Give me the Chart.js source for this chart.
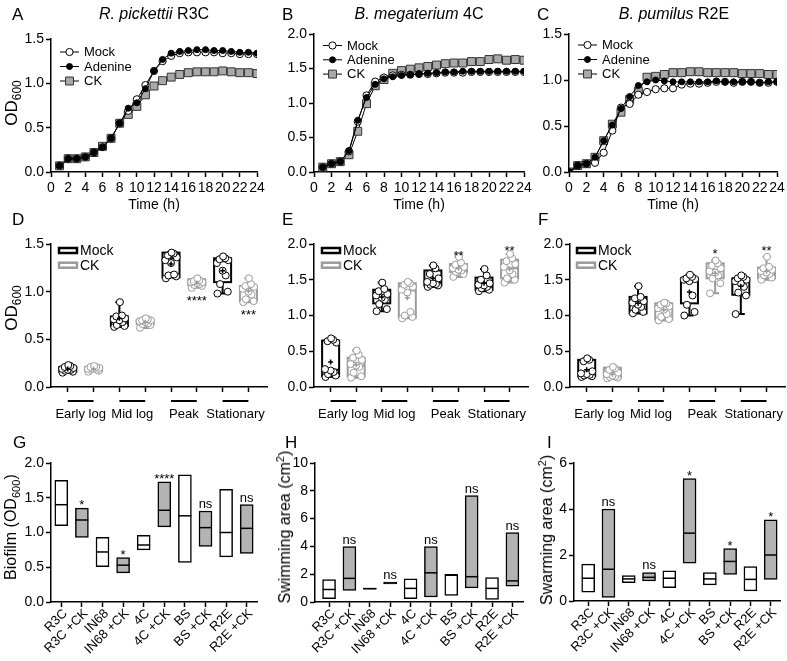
<!DOCTYPE html>
<html>
<head>
<meta charset="utf-8">
<script src="https://cdn.jsdelivr.net/npm/chart.js@4.4.0/dist/chart.umd.min.js"></script>
<style>
  body { margin: 0; background: #fff; }
  #fig { position: relative; width: 787px; height: 661px; overflow: hidden; font-family: "Liberation Sans", Arial, sans-serif; color: #000; }
  .cv { position: absolute; }
  .txt { position: absolute; white-space: nowrap; line-height: 1; }
  .letter { font-size: 17px; }
  .title { font-size: 16px; transform: translateX(-50%); }
  .ytitle { transform: translate(-50%, -50%) rotate(-90deg); }
  sub, sup { font-size: 0.7em; line-height: 0; }
</style>
</head>
<body>
<div id="fig"></div>
<script>
// ---- growth curves (A-C) ----
const groupNames = ['Mock', 'Adenine', 'CK'];
const hoursAB = [1,2,3,4,5,6,7,8,9,10,11,12,13,14,15,16,17,18,19,20,21,22,23,24];
const hoursC = [0,1,2,3,4,5,6,7,8,9,10,11,12,13,14,15,16,17,18,19,20,21,22,23,24];

const r3cMock = [0.07,0.15,0.15,0.17,0.22,0.28,0.38,0.55,0.69,0.82,0.98,1.14,1.25,1.31,1.34,1.35,1.35,1.35,1.35,1.34,1.34,1.33,1.33,1.33];
const r3cAdenine = [0.07,0.15,0.15,0.17,0.22,0.28,0.38,0.55,0.72,0.78,0.94,1.14,1.27,1.34,1.36,1.37,1.38,1.38,1.37,1.37,1.36,1.35,1.35,1.34];
const r3cCK = [0.07,0.15,0.15,0.17,0.22,0.29,0.38,0.55,0.65,0.74,0.87,0.97,1.03,1.07,1.10,1.12,1.13,1.13,1.13,1.14,1.13,1.12,1.12,1.11];

const megMock = [0.07,0.12,0.15,0.30,0.73,1.11,1.31,1.37,1.40,1.41,1.41,1.42,1.42,1.43,1.44,1.44,1.44,1.45,1.45,1.45,1.45,1.45,1.45,1.45];
const megAdenine = [0.07,0.12,0.15,0.31,0.75,1.08,1.27,1.35,1.38,1.40,1.41,1.42,1.43,1.44,1.45,1.45,1.46,1.46,1.46,1.46,1.46,1.46,1.46,1.46];
const megCK = [0.07,0.12,0.15,0.25,0.59,0.99,1.25,1.34,1.43,1.47,1.49,1.51,1.53,1.55,1.57,1.58,1.58,1.60,1.60,1.63,1.64,1.62,1.63,1.62];

const pumMock = [0,0.07,0.09,0.10,0.21,0.45,0.70,0.74,0.84,0.87,0.90,0.91,0.91,0.95,0.96,0.96,0.97,0.98,0.98,0.97,0.98,0.98,0.97,0.97,0.98];
const pumAdenine = [0,0.07,0.09,0.16,0.34,0.51,0.69,0.82,0.94,0.98,1.00,0.99,0.98,0.98,0.98,0.98,0.98,0.99,0.98,0.98,0.98,0.98,0.97,0.98,0.98];
const pumCK = [0,0.07,0.09,0.16,0.34,0.52,0.65,0.79,0.88,1.03,1.04,1.06,1.08,1.08,1.09,1.09,1.08,1.08,1.08,1.08,1.07,1.07,1.07,1.06,1.06];

// ---- growth phases (D-F): [min, q1, median, q3, max] ----
const phases = ['Early log', 'Mid log', 'Peak', 'Stationary'];
const boxNames = ['Mock', 'CK'];

const dMockBox = [[0.15,0.16,0.18,0.21,0.23],[0.63,0.64,0.69,0.74,0.89],[1.15,1.15,1.35,1.41,1.41],[0.98,1.10,1.32,1.35,1.37]];
const dCkBox = [[0.16,0.17,0.19,0.21,0.22],[0.62,0.66,0.68,0.70,0.72],[1.04,1.07,1.10,1.13,1.14],[0.89,0.90,1.03,1.06,1.14]];
const dMockPts = [[0.15,0.16,0.17,0.18,0.18,0.19,0.20,0.21,0.22,0.23],[0.63,0.64,0.65,0.68,0.70,0.71,0.72,0.74,0.75,0.89],[1.14,1.16,1.17,1.18,1.30,1.33,1.36,1.38,1.40,1.41],[0.98,1.00,1.08,1.17,1.22,1.30,1.33,1.34,1.35,1.37]];
const dCkPts = [[0.16,0.17,0.18,0.18,0.19,0.19,0.20,0.21,0.21,0.22],[0.62,0.65,0.66,0.67,0.68,0.69,0.70,0.70,0.71,0.72],[1.04,1.06,1.07,1.08,1.09,1.10,1.10,1.11,1.12,1.14],[0.89,0.90,0.92,0.97,1.00,1.03,1.05,1.06,1.08,1.14]];
const dMockMean = [0.19,0.72,1.29,1.22];
const dCkMean = [0.19,0.68,1.09,1.01];
const dSig = ['', '', '****', '***'];
const dSigY = [0, 0, 0.93, 0.79];

const eMockBox = [[0.14,0.15,0.24,0.65,0.68],[1.06,1.17,1.27,1.36,1.46],[1.40,1.42,1.46,1.63,1.70],[1.34,1.36,1.42,1.53,1.65]];
const eCkBox = [[0.13,0.15,0.30,0.41,0.51],[0.96,0.97,1.35,1.45,1.47],[1.54,1.61,1.65,1.72,1.82],[1.46,1.52,1.66,1.78,1.86]];
const eMockPts = [[0.14,0.16,0.18,0.21,0.23,0.25,0.62,0.64,0.66,0.68],[1.06,1.09,1.16,1.22,1.25,1.28,1.30,1.34,1.37,1.46],[1.40,1.42,1.43,1.44,1.45,1.47,1.52,1.58,1.66,1.70],[1.34,1.36,1.38,1.40,1.42,1.43,1.45,1.50,1.56,1.65]];
const eCkPts = [[0.13,0.15,0.20,0.28,0.30,0.32,0.38,0.41,0.45,0.51],[0.96,0.98,1.00,1.05,1.32,1.36,1.40,1.43,1.45,1.47],[1.54,1.58,1.61,1.63,1.64,1.66,1.68,1.71,1.74,1.82],[1.46,1.50,1.52,1.58,1.63,1.68,1.72,1.76,1.80,1.86]];
const eMockMean = [0.35,1.26,1.52,1.45];
const eCkMean = [0.31,1.25,1.66,1.65];
const eSig = ['', '', '**', '**'];
const eSigY = [0, 0, 1.88, 1.94];

const fMockBox = [[0.14,0.15,0.18,0.38,0.40],[1.03,1.03,1.17,1.26,1.41],[1.00,1.17,1.50,1.52,1.57],[1.02,1.29,1.47,1.52,1.56]];
const fCkBox = [[0.12,0.13,0.17,0.27,0.28],[0.93,0.94,1.10,1.17,1.18],[1.31,1.52,1.62,1.73,1.77],[1.50,1.52,1.61,1.67,1.82]];
const fMockPts = [[0.14,0.15,0.16,0.17,0.18,0.19,0.22,0.36,0.38,0.40],[1.03,1.05,1.08,1.12,1.15,1.18,1.20,1.24,1.26,1.41],[1.00,1.05,1.15,1.28,1.48,1.50,1.51,1.52,1.54,1.57],[1.02,1.28,1.32,1.40,1.45,1.48,1.50,1.52,1.54,1.56]];
const fCkPts = [[0.12,0.13,0.14,0.15,0.16,0.18,0.20,0.24,0.26,0.28],[0.93,0.95,0.98,1.02,1.08,1.10,1.13,1.15,1.17,1.18],[1.31,1.45,1.52,1.56,1.60,1.62,1.66,1.70,1.73,1.77],[1.50,1.53,1.56,1.58,1.60,1.62,1.64,1.66,1.68,1.82]];
const fMockMean = [0.24,1.17,1.33,1.41];
const fCkMean = [0.18,1.08,1.59,1.62];
const fSig = ['', '', '*', '**'];
const fSigY = [0, 0, 1.90, 1.95];

// ---- G-I: [min, max] and median ----
const strains = ['R3C', 'R3C +CK', 'IN68', 'IN68 +CK', '4C', '4C +CK', 'BS', 'BS +CK', 'R2E', 'R2E +CK'];
const biofilmRange = [[1.10,1.75],[0.93,1.35],[0.51,0.93],[0.42,0.64],[0.75,0.96],[1.08,1.73],[0.57,1.83],[0.80,1.31],[0.65,1.62],[0.70,1.40]];
const biofilmMedian = [1.40,1.18,0.72,0.53,0.82,1.32,1.24,1.07,1.00,1.06];
const biofilmSig = ['', '*', '', '*', '', '****', '', 'ns', '', 'ns'];
const swimRange = [[0.24,1.62],[0.84,3.98],[0.92,1.00],[1.30,1.43],[0.24,1.67],[0.36,3.98],[0.48,1.96],[1.02,7.66],[0.18,1.76],[1.13,4.99]];
const swimMedian = [0.90,1.70,0.96,1.37,0.98,2.10,1.96,1.82,0.98,1.52];
const swimSig = ['', 'ns', '', 'ns', '', 'ns', '', 'ns', '', 'ns'];
const swarmRange = [[0.38,1.60],[0.16,4.00],[0.80,1.10],[0.87,1.24],[0.58,1.31],[1.64,5.32],[0.70,1.24],[1.16,2.28],[0.44,1.50],[0.94,3.53]];
const swarmMedian = [0.99,1.38,0.96,1.03,0.99,2.95,0.96,1.72,0.94,2.00];
const swarmSig = ['', 'ns', '', 'ns', '', '*', '', '*', '', '*'];

// ---- drawing ----
const FONT = '"Liberation Sans", Arial, sans-serif';
const GRAY_LINE = '#9b9b9b';
const GRAY_FILL = '#b3b3b3';
const fig = document.getElementById('fig');
const YW = 40, PT = 22, PR = 16;

function addText(html, cls, css) {
  const d = document.createElement('div');
  d.className = 'txt ' + cls;
  d.innerHTML = html;
  Object.assign(d.style, css);
  fig.appendChild(d);
}

// place a canvas so that the chart area lands on box {L,T,R,B}
function makeChart(box, xh, config) {
  const c = document.createElement('canvas');
  const w = box.R - box.L + YW + PR, h = box.B - box.T + PT + xh;
  c.width = w; c.height = h;
  c.className = 'cv';
  c.style.left = (box.L - YW) + 'px';
  c.style.top = (box.T - PT) + 'px';
  c.style.width = w + 'px';
  c.style.height = h + 'px';
  fig.appendChild(c);
  const o = config.options;
  o.responsive = false;
  o.animation = false;
  o.devicePixelRatio = 1;
  o.layout = { autoPadding: false, padding: { top: PT, right: PR, left: 0, bottom: 0 } };
  o.scales.x.afterFit = s => { s.height = xh; s.paddingLeft = 0; s.paddingRight = 0; };
  o.scales.y.afterFit = s => { s.width = YW; s.paddingTop = 0; s.paddingBottom = 0; };
  o.plugins = Object.assign({ legend: { display: false }, tooltip: { enabled: false } }, o.plugins || {});
  return new Chart(c, config);
}

function axisBase() {
  return {
    border: { display: true, color: '#000', width: 1.5 },
    grid: { drawOnChartArea: false, drawTicks: true, tickLength: 5, tickWidth: 1.5, tickColor: '#000', offset: false },
  };
}

function yAxis(max, step, dec) {
  return Object.assign(axisBase(), {
    type: 'linear', min: 0, max: max,
    ticks: { stepSize: step, color: '#000', padding: 2, font: { family: FONT, size: 14 }, callback: v => v.toFixed(dec) }
  });
}

function timeAxis() {
  return Object.assign(axisBase(), {
    type: 'linear', min: 0, max: 24,
    ticks: { stepSize: 2, color: '#000', padding: 3, maxRotation: 0, autoSkip: false, font: { family: FONT, size: 14 } },
    title: { display: true, text: 'Time (h)', color: '#000', font: { family: FONT, size: 14 }, padding: 0 }
  });
}

const growthLegend = {
  id: 'growthLegend',
  afterDatasetsDraw(chart, args, o) {
    const ctx = chart.ctx, a = chart.chartArea;
    chart.data.datasets.forEach((ds, i) => {
      const x = a.left + o.left, y = a.top + o.top + i * o.gap;
      ctx.save();
      ctx.strokeStyle = '#000'; ctx.lineWidth = 1;
      ctx.beginPath(); ctx.moveTo(x, y); ctx.lineTo(x + 19, y); ctx.stroke();
      ctx.fillStyle = ds.pointBackgroundColor; ctx.strokeStyle = ds.pointBorderColor;
      ctx.beginPath();
      if (ds.pointStyle === 'rect') {
        const s = ds.pointRadius * Math.SQRT1_2;
        ctx.rect(x + 9.5 - s, y - s, 2 * s, 2 * s);
      } else {
        ctx.arc(x + 9.5, y, ds.pointRadius, 0, Math.PI * 2);
      }
      ctx.fill(); ctx.stroke();
      ctx.fillStyle = '#000'; ctx.font = '13px ' + FONT;
      ctx.textAlign = 'left'; ctx.textBaseline = 'middle';
      ctx.fillText(ds.label, x + 24, y + 0.5);
      ctx.restore();
    });
  }
};

function growthChart(box, xs, mock, aden, ck, yMax, leg) {
  const pts = arr => arr.map((v, i) => ({ x: xs[i], y: v }));
  const common = { borderColor: '#000', borderWidth: 1, pointBorderWidth: 1, tension: 0 };
  makeChart(box, 42, {
    type: 'line',
    data: { datasets: [
      Object.assign({ label: groupNames[0], data: pts(mock), order: 1, pointStyle: 'circle', pointRadius: 3.6, pointBackgroundColor: '#fff', pointBorderColor: '#000' }, common),
      Object.assign({ label: groupNames[1], data: pts(aden), order: 0, pointStyle: 'circle', pointRadius: 3, pointBackgroundColor: '#000', pointBorderColor: '#000' }, common),
      Object.assign({ label: groupNames[2], data: pts(ck), order: 2, pointStyle: 'rect', pointRadius: 5.6, pointBackgroundColor: '#a9a9a9', pointBorderColor: '#333' }, common)
    ] },
    options: {
      scales: { x: timeAxis(), y: yAxis(yMax, 0.5, 1) },
      plugins: { growthLegend: leg }
    },
    plugins: [growthLegend]
  });
}

// box plots with min-max whiskers, drawn through the chart scales
const boxPlot = {
  id: 'boxPlot',
  beforeDatasetsDraw(chart, args, o) {
    const ctx = chart.ctx, xs = chart.scales.x, ys = chart.scales.y;
    o.series.forEach((s, si) => {
      s.box.forEach((b, pi) => {
        const cx = xs.getPixelForValue(pi * 2 + si);
        const [mn, q1, md, q3, mx] = b.map(v => ys.getPixelForValue(v));
        ctx.save();
        ctx.strokeStyle = s.color; ctx.lineWidth = 2;
        ctx.strokeRect(cx - 8.5, q3, 17, q1 - q3);
        ctx.beginPath();
        ctx.moveTo(cx - 8.5, md); ctx.lineTo(cx + 8.5, md);
        ctx.moveTo(cx, q3); ctx.lineTo(cx, mx);
        ctx.moveTo(cx - 4, mx); ctx.lineTo(cx + 4, mx);
        ctx.moveTo(cx, q1); ctx.lineTo(cx, mn);
        ctx.moveTo(cx - 4, mn); ctx.lineTo(cx + 4, mn);
        ctx.stroke();
        ctx.restore();
      });
    });
  },
  afterDraw(chart, args, o) {
    const ctx = chart.ctx, xs = chart.scales.x, ys = chart.scales.y, a = chart.chartArea;
    ctx.save();
    ctx.fillStyle = '#000';
    // significance marks
    ctx.font = '13px ' + FONT; ctx.textAlign = 'center'; ctx.textBaseline = 'alphabetic';
    o.sig.forEach((t, pi) => {
      if (!t) return;
      ctx.fillText(t, xs.getPixelForValue(pi * 2 + 1), ys.getPixelForValue(o.sigY[pi]) + 7);
    });
    // phase labels under pairs
    ctx.strokeStyle = '#000'; ctx.lineWidth = 2;
    ctx.textBaseline = 'middle';
    phases.forEach((p, pi) => {
      const x1 = xs.getPixelForValue(pi * 2), x2 = xs.getPixelForValue(pi * 2 + 1);
      ctx.beginPath(); ctx.moveTo(x1, a.bottom + 14); ctx.lineTo(x2, a.bottom + 14); ctx.stroke();
      ctx.fillText(p, (x1 + x2) / 2, a.bottom + 27);
    });
    // legend
    ctx.font = '14px ' + FONT; ctx.textAlign = 'left';
    o.series.forEach((s, si) => {
      const x = a.left + o.legLeft, y = a.top + 6.5 + si * 14.7;
      ctx.strokeStyle = s.color; ctx.lineWidth = 2.5;
      ctx.strokeRect(x, y - 2.5, 18, 5);
      ctx.fillStyle = '#000';
      ctx.fillText(s.name, x + 21, y + 0.5);
    });
    ctx.restore();
  }
};

const JIT = [-0.2, 0.2, -0.1, 0.12, 0, -0.22, 0.22, -0.12, 0.1, 0.02];

function phaseChart(box, mockBox, ckBox, mockPts, ckPts, mockMean, ckMean, sig, sigY, legLeft) {
  const series = [
    { name: boxNames[0], color: '#000', box: mockBox, pts: mockPts, mean: mockMean },
    { name: boxNames[1], color: GRAY_LINE, box: ckBox, pts: ckPts, mean: ckMean }
  ];
  const datasets = [];
  series.forEach((s, si) => {
    datasets.push({
      data: s.pts.flatMap((arr, pi) => arr.map((v, j) => ({ x: pi * 2 + si + JIT[j], y: v }))),
      pointRadius: 3.5, pointBackgroundColor: '#fff', pointBorderColor: s.color, pointBorderWidth: 1, order: 1
    });
    datasets.push({
      data: s.mean.map((v, pi) => ({ x: pi * 2 + si, y: v })),
      pointStyle: 'cross', pointRadius: 2.5, pointBorderColor: s.color, pointBorderWidth: 1.5, order: 0
    });
  });
  const xAxis = Object.assign(axisBase(), {
    type: 'linear', min: -0.65, max: 7.72,
    afterBuildTicks: s => { s.ticks = [0,1,2,3,4,5,6,7].map(v => ({ value: v })); },
    ticks: { callback: () => '', autoSkip: false }
  });
  makeChart(box, 40, {
    type: 'scatter',
    data: { datasets },
    options: {
      scales: { x: xAxis, y: yAxis(box.yMax, 0.5, 1) },
      plugins: { boxPlot: { series, sig, sigY, legLeft } }
    },
    plugins: [boxPlot]
  });
}

// medians and significance labels for the range charts
const rangeMarks = {
  id: 'rangeMarks',
  afterDatasetsDraw(chart, args, o) {
    const ctx = chart.ctx, xs = chart.scales.x, ys = chart.scales.y;
    ctx.save();
    ctx.strokeStyle = '#000'; ctx.lineWidth = 1.5; ctx.fillStyle = '#000';
    ctx.font = '13px ' + FONT; ctx.textAlign = 'center'; ctx.textBaseline = 'alphabetic';
    o.medians.forEach((m, i) => {
      const cx = xs.getPixelForValue(i), y = ys.getPixelForValue(m);
      ctx.beginPath(); ctx.moveTo(cx - 6.5, y); ctx.lineTo(cx + 6.5, y); ctx.stroke();
      const t = o.sig[i];
      if (t) {
        const top = ys.getPixelForValue(o.ranges[i][1]);
        ctx.fillText(t, cx, t[0] === '*' ? top + 1 : top - 3);
      }
    });
    ctx.restore();
  }
};

function rangeChart(box, ranges, medians, sig, yMax, step, dec) {
  const xAxis = Object.assign(axisBase(), {
    type: 'linear', min: box.xMin, max: box.xMax, offset: false,
    afterBuildTicks: s => { s.ticks = strains.map((n, i) => ({ value: i })); },
    ticks: { autoSkip: false, minRotation: 45, maxRotation: 45, padding: -1, labelOffset: 4, color: '#000', font: { family: FONT, size: 13 }, callback: v => strains[v] }
  });
  makeChart(box, 62, {
    type: 'bar',
    data: { datasets: [{
      data: ranges.map((r, i) => ({ x: i, y: r })),
      backgroundColor: strains.map(n => n.includes('CK') ? GRAY_FILL : '#fff'),
      borderColor: '#000', borderWidth: 1.5, borderSkipped: false, barThickness: 13
    }] },
    options: {
      scales: { x: xAxis, y: yAxis(yMax, step, dec) },
      plugins: { rangeMarks: { medians, sig, ranges } }
    },
    plugins: [rangeMarks]
  });
}

growthChart({ L: 51, T: 39, R: 257, B: 172 }, hoursAB, r3cMock, r3cAdenine, r3cCK, 1.5, { left: 9, top: 13, gap: 14.5 });
growthChart({ L: 314, T: 34, R: 524, B: 172 }, hoursAB, megMock, megAdenine, megCK, 2.0, { left: 9, top: 11.5, gap: 14.3 });
growthChart({ L: 569, T: 34, R: 777, B: 172 }, hoursC, pumMock, pumAdenine, pumCK, 1.5, { left: 9, top: 11, gap: 14.5 });

phaseChart({ L: 51, T: 244, R: 267, B: 387, yMax: 1.5 }, dMockBox, dCkBox, dMockPts, dCkPts, dMockMean, dCkMean, dSig, dSigY, 8);
phaseChart({ L: 314, T: 244, R: 528, B: 387, yMax: 2.0 }, eMockBox, eCkBox, eMockPts, eCkPts, eMockMean, eCkMean, eSig, eSigY, 8);
phaseChart({ L: 570, T: 244, R: 785, B: 387, yMax: 2.0 }, fMockBox, fCkBox, fMockPts, fCkPts, fMockMean, fCkMean, fSig, fSigY, 7);

rangeChart({ L: 51, T: 463, R: 257, B: 602, xMin: -0.5, xMax: 9.5 }, biofilmRange, biofilmMedian, biofilmSig, 2, 0.5, 1);
rangeChart({ L: 315, T: 463, R: 523, B: 602, xMin: -0.69, xMax: 9.52 }, swimRange, swimMedian, swimSig, 10, 2, 0);
rangeChart({ L: 574, T: 463, R: 780, B: 601, xMin: -0.7, xMax: 9.46 }, swarmRange, swarmMedian, swarmSig, 6, 2, 0);

// text
[['A', 12, 6], ['B', 282, 6], ['C', 537, 6], ['D', 12, 211], ['E', 282, 211], ['F', 538, 211], ['G', 13, 434], ['H', 285, 434], ['I', 547, 434]]
  .forEach(([t, x, y]) => addText(t, 'letter', { left: x + 'px', top: y + 'px' }));
addText('<i>R. pickettii</i> R3C', 'title', { left: '154px', top: '6px' });
addText('<i>B. megaterium</i> 4C', 'title', { left: '419px', top: '6px' });
addText('<i>B. pumilus</i> R2E', 'title', { left: '674px', top: '6px' });
addText('OD<sub>600</sub>', 'ytitle', { left: '11px', top: '103px', fontSize: '17px' });
addText('OD<sub>600</sub>', 'ytitle', { left: '11px', top: '308px', fontSize: '17px' });
addText('Biofilm (OD<sub>600</sub>)', 'ytitle', { left: '11px', top: '527px', fontSize: '16px' });
addText('Swimming area (cm<sup>2</sup>)', 'ytitle', { left: '285px', top: '527px', fontSize: '16px' });
addText('Swarming area (cm<sup>2</sup>)', 'ytitle', { left: '547px', top: '530px', fontSize: '16px' });
</script>
</body>
</html>
